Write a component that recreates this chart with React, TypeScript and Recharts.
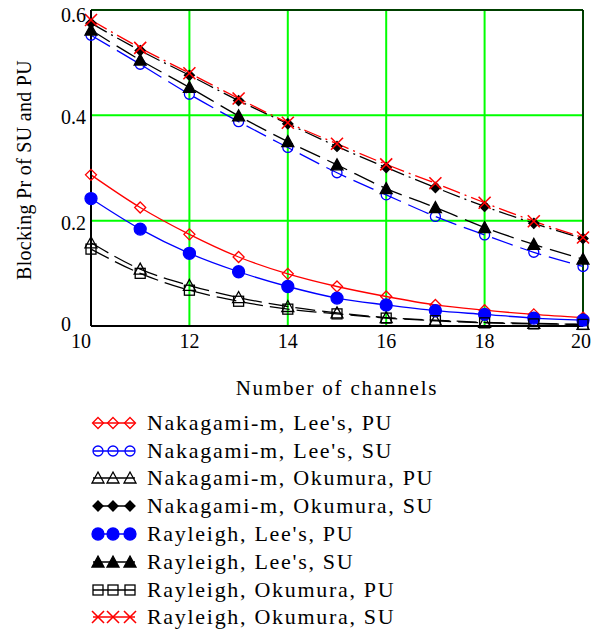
import {
  CartesianGrid,
  Legend,
  Line,
  LineChart,
  ReferenceLine,
  XAxis,
  YAxis,
} from "recharts";

// number of channels
const channels = [10, 11, 12, 13, 14, 15, 16, 17, 18, 19, 20];

// blocking probability
const nakLeePU = [0.287, 0.225, 0.174, 0.131, 0.099, 0.075, 0.056, 0.04, 0.03, 0.022, 0.016];
const nakLeeSU = [0.552, 0.497, 0.44, 0.388, 0.339, 0.291, 0.249, 0.208, 0.173, 0.14, 0.113];
const nakOkuPU = [0.158, 0.108, 0.077, 0.054, 0.037, 0.025, 0.016, 0.011, 0.007, 0.005, 0.003];
const nakOkuSU = [0.575, 0.523, 0.476, 0.428, 0.384, 0.341, 0.301, 0.263, 0.227, 0.195, 0.166];
const rayLeePU = [0.242, 0.184, 0.138, 0.103, 0.075, 0.053, 0.04, 0.029, 0.022, 0.015, 0.011];
const rayLeeSU = [0.562, 0.505, 0.453, 0.399, 0.35, 0.306, 0.261, 0.225, 0.187, 0.155, 0.127];
const rayOkuPU = [0.146, 0.1, 0.068, 0.047, 0.032, 0.023, 0.015, 0.01, 0.006, 0.004, 0.003];
const rayOkuSU = [0.581, 0.528, 0.48, 0.432, 0.386, 0.346, 0.307, 0.271, 0.234, 0.199, 0.168];

const xTicks = [10, 12, 14, 16, 18, 20];
const yTicks = [0, 0.2, 0.4, 0.6];

type Shape = "diamond" | "circle" | "triangle" | "square" | "cross";

type Series = {
  key: string;
  name: string;
  values: number[];
  color: string;
  dash?: string;
  shape: Shape;
  filled: boolean;
};

const series: Series[] = [
  { key: "nlp", name: "Nakagami-m, Lee's, PU", values: nakLeePU, color: "#ff0000", shape: "diamond", filled: false },
  { key: "nls", name: "Nakagami-m, Lee's, SU", values: nakLeeSU, color: "#0000ff", dash: "22 8", shape: "circle", filled: false },
  { key: "nop", name: "Nakagami-m, Okumura, PU", values: nakOkuPU, color: "#000000", dash: "20 7", shape: "triangle", filled: false },
  { key: "nos", name: "Nakagami-m, Okumura, SU", values: nakOkuSU, color: "#000000", dash: "18 5 2 5", shape: "diamond", filled: true },
  { key: "rlp", name: "Rayleigh, Lee's, PU", values: rayLeePU, color: "#0000ff", shape: "circle", filled: true },
  { key: "rls", name: "Rayleigh, Lee's, SU", values: rayLeeSU, color: "#000000", dash: "22 8", shape: "triangle", filled: true },
  { key: "rop", name: "Rayleigh, Okumura, PU", values: rayOkuPU, color: "#000000", dash: "20 7", shape: "square", filled: false },
  { key: "ros", name: "Rayleigh, Okumura, SU", values: rayOkuSU, color: "#ff0000", dash: "18 5 2 5", shape: "cross", filled: false },
];

const data = channels.map((c, i) => {
  const row: Record<string, number> = { n: c };
  series.forEach((s) => {
    row[s.key] = s.values[i];
  });
  return row;
});

const FONT = '"Liberation Serif", "DejaVu Serif", serif';

function Marker({
  shape,
  x,
  y,
  color,
  filled,
}: {
  shape: Shape;
  x: number;
  y: number;
  color: string;
  filled: boolean;
}) {
  const fill = filled ? color : "none";
  const sw = 1.3;
  switch (shape) {
    case "diamond": {
      const s = filled ? 5 : 5.5;
      return (
        <polygon
          points={`${x},${y - s} ${x + s},${y} ${x},${y + s} ${x - s},${y}`}
          fill={fill}
          stroke={color}
          strokeWidth={sw}
        />
      );
    }
    case "circle":
      return <circle cx={x} cy={y} r={filled ? 6 : 5} fill={fill} stroke={color} strokeWidth={sw} />;
    case "triangle":
      return (
        <polygon
          points={`${x},${y - 6} ${x + 6},${y + 5} ${x - 6},${y + 5}`}
          fill={fill}
          stroke={color}
          strokeWidth={sw}
        />
      );
    case "square":
      return <rect x={x - 5} y={y - 5} width={10} height={10} fill={fill} stroke={color} strokeWidth={sw} />;
    case "cross":
      return (
        <g stroke={color} strokeWidth={1.6}>
          <line x1={x - 6} y1={y - 6} x2={x + 6} y2={y + 6} />
          <line x1={x - 6} y1={y + 6} x2={x + 6} y2={y - 6} />
        </g>
      );
  }
}

function makeDot(s: Series) {
  return (p: any) => (
    <g key={`${s.key}-${p.index}`}>
      <Marker shape={s.shape} x={p.cx} y={p.cy} color={s.color} filled={s.filled} />
    </g>
  );
}

function XTick(props: any) {
  const { x, y, payload } = props;
  const v = payload.value;
  let anchor: "middle" | "end" = "middle";
  let dx = 0;
  if (v === 10) {
    anchor = "end";
    dx = 0;
  } else if (v === 20) {
    anchor = "end";
    dx = 8;
  }
  return (
    <text x={x + dx} y={y} dy="0.71em" textAnchor={anchor} fontSize={20} fill="#000" style={{ fontFamily: FONT }}>
      {v}
    </text>
  );
}

function YTick(props: any) {
  const { x, y, payload } = props;
  const v = payload.value;
  const label = v === 0 ? "0" : v.toFixed(1);
  const shift = v === 0.6 ? 5 : v === 0 ? -2 : 2;
  return (
    <text
      x={x - 30}
      y={y + shift}
      dominantBaseline="central"
      textAnchor="start"
      fontSize={20}
      fill="#000"
      style={{ fontFamily: FONT }}
    >
      {label}
    </text>
  );
}

function LegendBox() {
  return (
    <div style={{ fontFamily: FONT, fontSize: 22, color: "#000" }}>
      {series.map((s) => (
        <div key={s.key} style={{ display: "flex", alignItems: "center", height: 27.8 }}>
          <svg width={48} height={16} style={{ display: "block" }}>
            <line x1={2} y1={8} x2={44} y2={8} stroke={s.color} strokeWidth={1.3} />
            {[7, 22, 39].map((mx) => (
              <Marker key={mx} shape={s.shape} x={mx} y={8} color={s.color} filled={s.filled} />
            ))}
          </svg>
          <span style={{ marginLeft: 8, whiteSpace: "nowrap", fontFamily: FONT, fontSize: 22, letterSpacing: 1.7 }}>
            {s.name}
          </span>
        </div>
      ))}
    </div>
  );
}

export default function App() {
  return (
    <div style={{ position: "absolute", left: 0, top: 0, width: 596, height: 636, background: "#fff", fontFamily: FONT }}>
      <LineChart width={596} height={636} data={data} margin={{ top: 10, right: 13, left: 0, bottom: 240 }}>
        <CartesianGrid stroke="#00ff00" strokeWidth={2} horizontalValues={yTicks} verticalValues={xTicks} />
        <XAxis
          dataKey="n"
          type="number"
          domain={[10, 20]}
          ticks={xTicks}
          height={70}
          tickLine={false}
          tickSize={4}
          tickMargin={4}
          tick={<XTick />}
          axisLine={{ stroke: "#000", strokeWidth: 2 }}
          label={{
            value: "Number of channels",
            position: "insideBottom",
            offset: 1,
            fontSize: 21,
            fill: "#000",
            style: { fontFamily: FONT, letterSpacing: 1.8 },
          }}
        />
        <YAxis
          type="number"
          domain={[0, 0.6]}
          ticks={yTicks}
          width={91}
          tickLine={false}
          tickSize={0}
          tickMargin={0}
          tick={<YTick />}
          axisLine={{ stroke: "#000", strokeWidth: 2 }}
          label={{
            value: "Blocking Pr of SU and PU",
            content: (p: any) => {
              const vb = p.viewBox || { x: 0, y: 10, width: 91, height: 316 };
              const cx = vb.x + 24;
              const cy = vb.y + vb.height / 2 + 2;
              return (
                <text
                  x={cx}
                  y={cy}
                  transform={`rotate(-90 ${cx} ${cy})`}
                  textAnchor="middle"
                  dominantBaseline="central"
                  fontSize={20}
                  fill="#000"
                  style={{ fontFamily: FONT, letterSpacing: 0.3 }}
                >
                  Blocking Pr of SU and PU
                </text>
              );
            },
          }}
        />
        <ReferenceLine y={0.6} stroke="#000" strokeWidth={1.5} />
        <ReferenceLine x={20} stroke="#000" strokeWidth={1.5} />
        {series.map((s) => (
          <Line
            key={s.key}
            dataKey={s.key}
            name={s.name}
            type="monotone"
            stroke={s.color}
            strokeWidth={1.3}
            strokeDasharray={s.dash}
            dot={makeDot(s)}
            activeDot={false}
            isAnimationActive={false}
          />
        ))}
        <Legend
          layout="vertical"
          align="center"
          verticalAlign="middle"
          content={() => <LegendBox />}
          wrapperStyle={{ position: "absolute", left: 91, top: 409, width: 480 }}
        />
      </LineChart>
    </div>
  );
}
